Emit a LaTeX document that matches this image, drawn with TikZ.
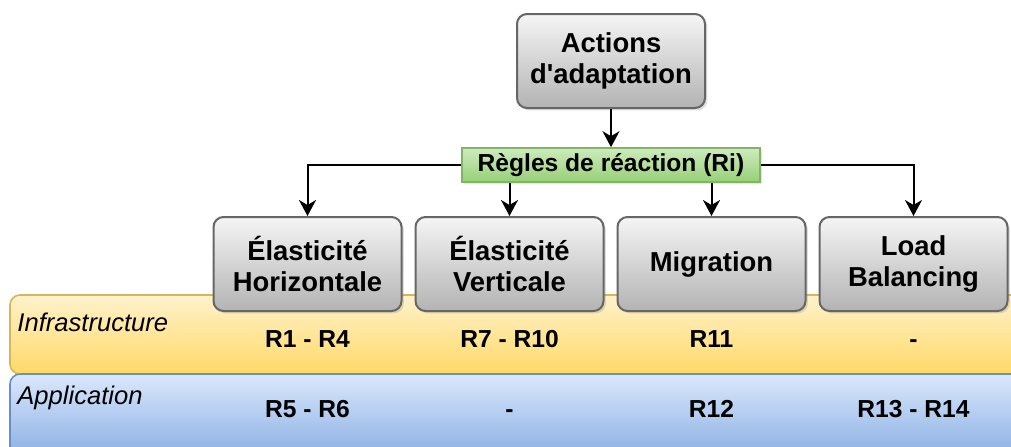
\documentclass[tikz,border=0pt]{standalone}
\usepackage{fontspec}
\setmainfont{Liberation Sans}
\usepackage{xcolor}
\definecolor{boxtop}{HTML}{F5F5F5}
\definecolor{boxbot}{HTML}{B3B3B3}
\definecolor{boxline}{HTML}{666666}
\definecolor{greentop}{HTML}{CDEBBE}
\definecolor{greenbot}{HTML}{97D077}
\definecolor{greenline}{HTML}{82B366}
\definecolor{infratop}{HTML}{FFF2CC}
\definecolor{infrabot}{HTML}{FFD966}
\definecolor{infraline}{HTML}{D6B656}
\definecolor{apptop}{HTML}{DAE8FC}
\definecolor{appbot}{HTML}{7EA6E0}
\definecolor{appline}{HTML}{6C8EBF}
\usepackage{tikz}
\usetikzlibrary{arrows.meta,positioning,shadows}
\tikzset{
  action/.style  = {rectangle, rounded corners=5pt, draw=boxline, line width=1pt,
                    top color=boxtop, bottom color=boxbot,
                    minimum width=94pt, minimum height=47pt, align=center,
                    font=\bfseries\fontsize{13.7}{15.5}\selectfont,
                    drop shadow={shadow xshift=1.2pt, shadow yshift=-1.2pt, opacity=0.25}},
  rules/.style   = {rectangle, draw=greenline, line width=0.8pt,
                    top color=greentop, bottom color=greenbot,
                    minimum width=149pt, minimum height=17pt, inner sep=1pt,
                    font=\bfseries\fontsize{12.3}{14}\selectfont,
                    drop shadow={shadow xshift=1pt, shadow yshift=-1pt, opacity=0.2}},
  layer/.style   = {rectangle, rounded corners=5pt, line width=0.8pt,
                    minimum width=510pt},
  infraband/.style = {layer, draw=infraline, top color=infratop,
                    bottom color=infrabot, minimum height=39.5pt},
  appband/.style = {layer, draw=appline, top color=apptop,
                    bottom color=appbot, minimum height=48pt},
  layername/.style = {anchor=west, inner sep=0pt,
                    font=\itshape\fontsize{12.8}{14}\selectfont},
  ruleref/.style = {anchor=base, font=\bfseries\fontsize{12.3}{14}\selectfont},
  conn/.style    = {-{Stealth[length=8pt, width=8.5pt, inset=2.5pt]},
                    line width=1pt, draw=black}
}
\begin{document}
\begin{tikzpicture}[x=0.5pt, y=-0.5pt, node distance=6pt]
  \useasboundingbox (0,0) rectangle (1011,446);
  \clip (0,0) rectangle (1011,446);
  % layers
  \node[infraband] (infra) at (520,334.5) {};
  \node[appband] (appl) at (520,422) {};
  \node[layername] (infralbl) at (17,322) {Infrastructure};
  \node[layername] (appllbl) at (17,398) {Application};
  % actions
  \node[action] (actions) at (611,61) {Actions\\d\textquotesingle adaptation};
  \node[rules] (rules) at (611,165) {Règles de réaction (Ri)};
  \node[action] (horiz) at (307.5,264) {Élasticité\\Horizontale};
  \node[action, right=of horiz] (vert) {Élasticité\\Verticale};
  \node[action, right=of vert] (migr) {Migration};
  \node[action, right=of migr] (lb) {Load\\Balancing};
  % connectors
  \draw[conn] (actions) -- (rules);
  \draw[conn] (rules.west) -| (horiz.north);
  \draw[conn] (rules.east) -| (lb.north);
  \draw[conn] (rules.south -| vert) -- (vert.north);
  \draw[conn] (rules.south -| migr) -- (migr.north);
  % rules per layer
  \foreach \col/\ri/\ra in {horiz/R1 - R4/R5 - R6, vert/R7 - R10/-,
                            migr/R11/R12, lb/-/R13 - R14} {
    \node[ruleref] (\col-infra) at (\col |- 0,347) {\ri};
    \node[ruleref] (\col-app) at (\col |- 0,417) {\ra};
  }
\end{tikzpicture}
\end{document}
